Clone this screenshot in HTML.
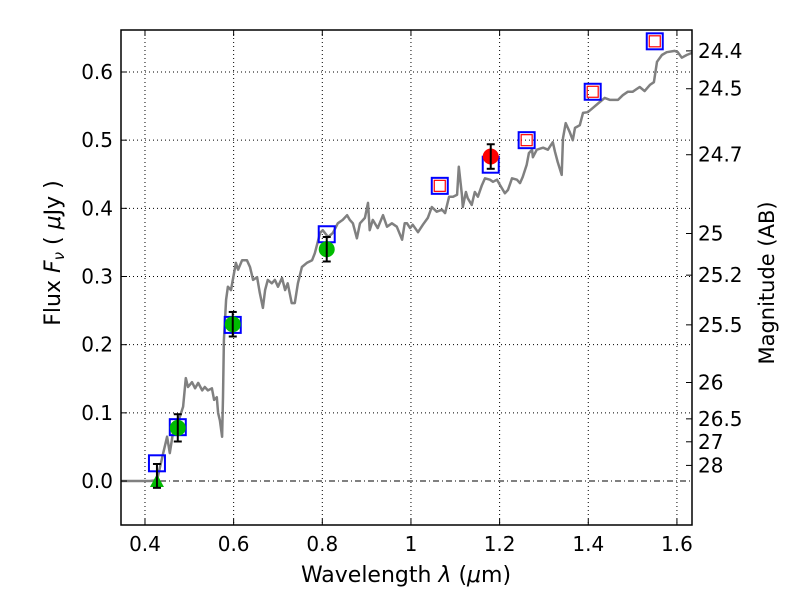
<!DOCTYPE html>
<html><head><meta charset="utf-8"><style>
body{margin:0;background:#fff;}
svg text{font-family:"DejaVu Sans","Liberation Sans",sans-serif;fill:#000;}
</style></head><body>
<svg id="chart" width="800" height="600" viewBox="0 0 800 600" xmlns="http://www.w3.org/2000/svg">
<rect width="800" height="600" fill="#fff"/>
<g id="grid"></g>
<g id="plot"></g>
<g id="axes"></g>
</svg>
<script>
const specLam=[0.346,0.411,0.427,0.441,0.450,0.456,0.463,0.474,0.486,0.492,0.497,0.506,0.513,0.520,0.529,0.535,0.542,0.551,0.556,0.562,0.565,0.569,0.574,0.576,0.578,0.583,0.587,0.594,0.598,0.605,0.610,0.619,0.630,0.637,0.644,0.653,0.659,0.666,0.671,0.677,0.686,0.693,0.700,0.709,0.716,0.722,0.731,0.738,0.745,0.754,0.765,0.777,0.783,0.795,0.801,0.813,0.824,0.835,0.846,0.856,0.862,0.869,0.878,0.885,0.896,0.903,0.907,0.914,0.925,0.937,0.946,0.957,0.968,0.980,0.986,0.991,0.998,1.004,1.016,1.027,1.038,1.047,1.058,1.070,1.077,1.086,1.095,1.104,1.108,1.115,1.117,1.124,1.128,1.137,1.144,1.151,1.160,1.167,1.178,1.185,1.194,1.201,1.212,1.219,1.228,1.239,1.246,1.252,1.261,1.266,1.273,1.275,1.284,1.298,1.309,1.320,1.325,1.331,1.340,1.343,1.349,1.358,1.365,1.370,1.381,1.388,1.399,1.410,1.426,1.437,1.449,1.467,1.478,1.489,1.500,1.516,1.527,1.539,1.548,1.555,1.566,1.577,1.595,1.602,1.611,1.622,1.634];
const specFlux=[0,0,0.001,0.041,0.065,0.041,0.070,0.085,0.109,0.151,0.138,0.145,0.136,0.144,0.133,0.138,0.133,0.136,0.119,0.123,0.100,0.089,0.065,0.123,0.207,0.266,0.285,0.280,0.295,0.320,0.310,0.324,0.324,0.314,0.295,0.299,0.276,0.254,0.280,0.295,0.290,0.295,0.285,0.298,0.280,0.290,0.261,0.261,0.290,0.314,0.320,0.324,0.334,0.364,0.368,0.358,0.364,0.378,0.383,0.390,0.383,0.378,0.356,0.378,0.386,0.408,0.368,0.383,0.371,0.390,0.373,0.378,0.373,0.354,0.378,0.378,0.371,0.376,0.365,0.376,0.386,0.402,0.395,0.398,0.393,0.417,0.417,0.420,0.461,0.420,0.402,0.424,0.415,0.405,0.424,0.417,0.434,0.444,0.442,0.439,0.442,0.434,0.422,0.427,0.444,0.442,0.437,0.446,0.464,0.481,0.486,0.475,0.486,0.489,0.486,0.497,0.483,0.468,0.449,0.503,0.525,0.512,0.500,0.518,0.522,0.540,0.541,0.547,0.556,0.562,0.559,0.559,0.566,0.571,0.571,0.578,0.572,0.581,0.585,0.615,0.625,0.629,0.631,0.629,0.621,0.625,0.628];
const modelLam=[0.427,0.474,0.598,0.810,1.065,1.180,1.261,1.410,1.550];
const modelFlux=[0.026,0.079,0.229,0.362,0.433,0.464,0.500,0.571,0.645];
const limitLam=[1.065,1.261,1.410,1.550];
const limitFlux=[0.433,0.500,0.571,0.645];
const detLam=[0.474,0.598,0.810];
const detFlux=[0.078,0.230,0.340];
const detErr=[0.020,0.018,0.018];
const redLam=[1.180];const redFlux=[0.476];const redErr=[0.018];
const triLam=[0.427];const triFlux=[0.0];const triErrUp=[0.025];const triErrLo=[0.010];
const xTicks=[0.4,0.6,0.8,1.0,1.2,1.4,1.6];
const xTickLabels=["0.4","0.6","0.8","1","1.2","1.4","1.6"];
const yTicks=[0,0.1,0.2,0.3,0.4,0.5,0.6];
const yTickLabels=["0.0","0.1","0.2","0.3","0.4","0.5","0.6"];
const magTicks=[24.4,24.5,24.7,25,25.2,25.5,26,26.5,27,28];
const magLabels=["24.4","24.5","24.7","25","25.2","25.5","26","26.5","27","28"];

const L=121,R=692,T=30,B=525;
const xmin=0.3459,xmax=1.634,ymin=-0.0645,ymax=0.6616;
const X=v=>L+(v-xmin)/(xmax-xmin)*(R-L);
const Y=v=>B-(v-ymin)/(ymax-ymin)*(B-T);
const NS="http://www.w3.org/2000/svg";
function mk(tag,attrs,parent){const e=document.createElementNS(NS,tag);for(const k in attrs)e.setAttribute(k,attrs[k]);parent.appendChild(e);return e;}
const grid=document.getElementById('grid'),plot=document.getElementById('plot'),axes=document.getElementById('axes');

xTicks.forEach((t,i)=>{
  const l=mk('line',{x1:X(t),x2:X(t),y1:T,y2:B,stroke:'#000','stroke-width':1,'stroke-dasharray':'1,3'},grid);
  
  
  const tk=mk('line',{x1:X(t),x2:X(t),y1:B,y2:B-6,stroke:'#000'},axes);
  
  
  const tk2=mk('line',{x1:X(t),x2:X(t),y1:T,y2:T+6,stroke:'#000'},axes);
  
  
  const tx=mk('text',{x:X(t),y:B+26,'text-anchor':'middle','font-size':20},axes);
  tx.textContent=xTickLabels[i];
  
  
});
yTicks.forEach((t,i)=>{
  const l=mk('line',{x1:L,x2:R,y1:Y(t),y2:Y(t),stroke:'#000','stroke-width':1,'stroke-dasharray':t===0?'6,3,1,3':'1,3'},grid);
  
  
  const tk=mk('line',{x1:L,x2:L+6,y1:Y(t),y2:Y(t),stroke:'#000'},axes);
  
  
  const tx=mk('text',{x:L-8,y:Y(t)+7,'text-anchor':'end','font-size':20},axes);
  tx.textContent=yTickLabels[i];
  
  
});
magTicks.forEach((m,i)=>{
  const f=Math.pow(10,(23.9-m)/2.5);
  const tk=mk('line',{x1:R,x2:R-6,y1:Y(f),y2:Y(f),stroke:'#000'},axes);
  
  
  const tx=mk('text',{x:R+6,y:Y(f)+7,'font-size':20},axes);
  tx.textContent=magLabels[i];
  
  
});

let d='';specLam.forEach((v,i)=>{d+=(i?'L':'M')+X(Math.max(v,xmin)).toFixed(1)+','+Y(specFlux[i]).toFixed(1);});
const sp=mk('path',{d:d,fill:'none',stroke:'#808080','stroke-width':2.5,'stroke-linejoin':'round'},plot);



function errbar(x,y1,y2,name){
  const g=mk('g',{stroke:'#000','stroke-width':2},plot);
  
  
  mk('line',{x1:X(x),x2:X(x),y1:Y(y1),y2:Y(y2)},g);
  mk('line',{x1:X(x)-4,x2:X(x)+4,y1:Y(y1),y2:Y(y1)},g);
  mk('line',{x1:X(x)-4,x2:X(x)+4,y1:Y(y2),y2:Y(y2)},g);
}
modelLam.forEach((v,i)=>{
  const r=mk('rect',{x:X(v)-8,y:Y(modelFlux[i])-8,width:16,height:16,fill:'none',stroke:'#0000ff','stroke-width':2},plot);
  
  
});
limitLam.forEach((v,i)=>{
  const r=mk('rect',{x:X(v)-5.5,y:Y(limitFlux[i])-5.5,width:11,height:11,fill:'none',stroke:'#ff0000','stroke-width':1.2},plot);
  
  
});
detLam.forEach((v,i)=>{
  const c=mk('circle',{cx:X(v),cy:Y(detFlux[i]),r:8,fill:'#00bb00'},plot);
  
  
  errbar(v,detFlux[i]-detErr[i],detFlux[i]+detErr[i],'detection-error-bar');
});
redLam.forEach((v,i)=>{
  const c=mk('circle',{cx:X(v),cy:Y(redFlux[i]),r:8,fill:'#ff0000'},plot);
  
  
  errbar(v,redFlux[i]-redErr[i],redFlux[i]+redErr[i],'red-error-bar');
});
triLam.forEach((v,i)=>{
  const x=X(v),y=Y(triFlux[i]);
  const p=mk('polygon',{points:`${x-7},${y+6} ${x+7},${y+6} ${x},${y-7}`,fill:'#00bb00'},plot);
  
  
  errbar(v,triFlux[i]-triErrLo[i],triFlux[i]+triErrUp[i],'triangle-error-bar');
});

const fr=mk('rect',{x:L,y:T,width:R-L,height:B-T,fill:'none',stroke:'#000','stroke-width':1.5},axes);


const xl=mk('text',{x:406,y:582,'text-anchor':'middle','font-size':22},axes);
xl.innerHTML='Wavelength  <tspan font-style="italic">λ</tspan> (<tspan font-style="italic">μ</tspan>m)';


const yl=mk('text',{x:0,y:0,'text-anchor':'middle','font-size':22,transform:'translate(60,253) rotate(-90)'},axes);
yl.innerHTML='Flux  <tspan font-style="italic">F</tspan><tspan font-style="italic" font-size="15" dy="4">ν</tspan><tspan dy="-4">  ( </tspan><tspan font-style="italic">μ</tspan>Jy )';


const ml=mk('text',{x:0,y:0,'text-anchor':'middle','font-size':21,transform:'translate(774,283) rotate(-90)'},axes);
ml.textContent='Magnitude (AB)';


</script>
</body></html>
